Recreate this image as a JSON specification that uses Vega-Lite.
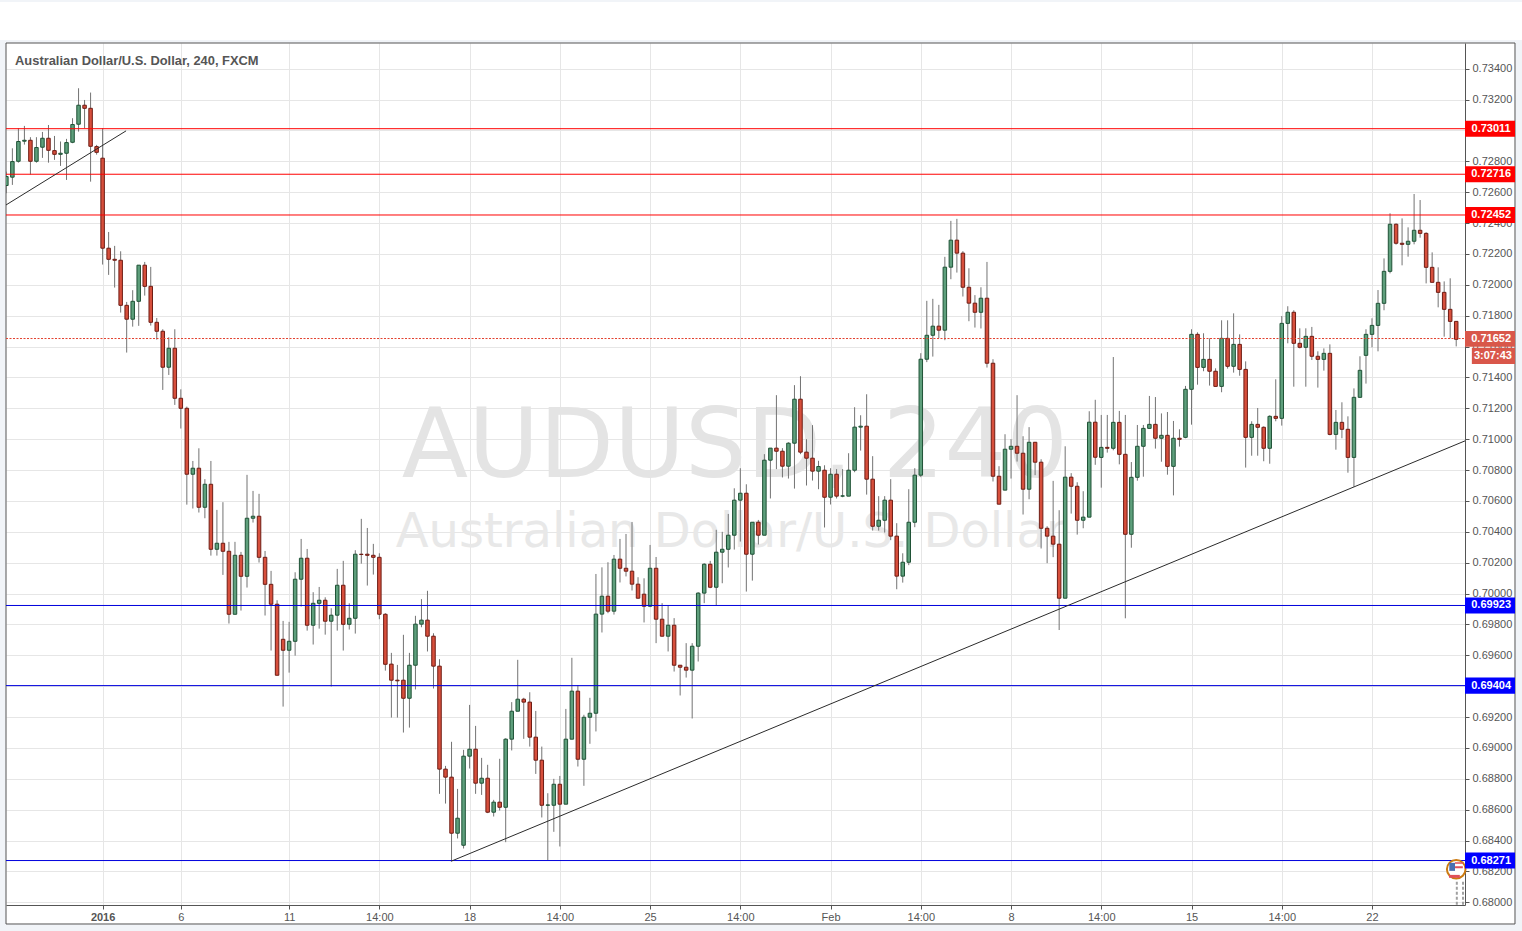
{
"$schema":"https://vega.github.io/schema/vega-lite/v6.json",
"width":1459,"height":862,
"autosize":{"type":"none"},
"padding":{"left":6,"top":43,"right":57,"bottom":26},
"background":"#ffffff",
"config":{"view":{"stroke":null},"font":"Liberation Sans"},
"datasets":{
"chrome":[
{"i":-2.05,"i2":250.96,"p":0.73845,"p2":0.73832},
{"i":-2.05,"i2":250.96,"p":0.73586,"p2":0.73566},
{"i":-2.05,"i2":-1.06,"p":0.73586,"p2":0.67815},
{"i":249.77,"i2":250.96,"p":0.73586,"p2":0.67815},
{"i":-2.05,"i2":250.96,"p":0.6786,"p2":0.67815}],
"frame":[{"i":-1.06,"i2":249.77,"p":0.73566,"p2":0.6786}],
"watermark":[{"i":120.1,"p":0.70756,"t":"AUDUSD, 240"}],
"watermark2":[{"i":119.4,"p":0.70302,"t":"Australian Dollar/U.S. Dollar"}],
"title":[{"i":0.44,"p":0.73424,"t":"Australian Dollar/U.S. Dollar, 240, FXCM"}],
"levelsRed":[{"i":-1.06,"i2":241.46,"p":0.73011},{"i":-1.06,"i2":241.46,"p":0.72716},{"i":-1.06,"i2":241.46,"p":0.72452}],
"levelsBlue":[{"i":-1.06,"i2":241.46,"p":0.69923},{"i":-1.06,"i2":241.46,"p":0.69404},{"i":-1.06,"i2":241.46,"p":0.68271}],
"current":[{"i":-1.06,"i2":241.46,"p":0.71652}],
"trend":[
{"id":"a","i":-1.06,"p":0.72517},{"id":"a","i":18.9,"p":0.72997},
{"id":"b","i":72.9,"p":0.68266},{"id":"b","i":241.46,"p":0.70989}],
"boxes":[
{"i":241.46,"i2":249.77,"p":0.73063,"p2":0.72959,"k":"red"},
{"i":241.46,"i2":249.77,"p":0.72768,"p2":0.72664,"k":"red"},
{"i":241.46,"i2":249.77,"p":0.72504,"p2":0.724,"k":"red"},
{"i":241.46,"i2":249.77,"p":0.71701,"p2":0.71598,"k":"cur"},
{"i":242.6,"i2":249.77,"p":0.71593,"p2":0.71487,"k":"cur"},
{"i":241.46,"i2":249.77,"p":0.69975,"p2":0.69871,"k":"blue"},
{"i":241.46,"i2":249.77,"p":0.69456,"p2":0.69352,"k":"blue"},
{"i":241.46,"i2":249.77,"p":0.68323,"p2":0.68219,"k":"blue"}],
"boxText":[
{"i":245.8,"p":0.73011,"t":"0.73011"},
{"i":245.8,"p":0.72716,"t":"0.72716"},
{"i":245.8,"p":0.72452,"t":"0.72452"},
{"i":245.8,"p":0.71652,"t":"0.71652"},
{"i":246.1,"p":0.7154,"t":"3:07:43"},
{"i":245.8,"p":0.69923,"t":"0.69923"},
{"i":245.8,"p":0.69404,"t":"0.69404"},
{"i":245.8,"p":0.68271,"t":"0.68271"}],
"iconDots":[{"i":240.1,"p":0.68133,"p2":0.67983},{"i":241.13,"p":0.68133,"p2":0.67983}],
"icon":[{"i":240,"p":0.68215}],
"iconBlue":[{"i":238.85,"i2":239.8,"p":0.68256,"p2":0.68204}],
"iconRed":[{"i":238.8,"i2":240.6,"p":0.68178,"p2":0.68159},{"i":239.8,"i2":241.1,"p":0.6826,"p2":0.6825},{"i":239.8,"i2":241.1,"p":0.68234,"p2":0.68221}],
"candles":[
{"i":-1,"o":0.72643,"h":0.72733,"l":0.72593,"c":0.72701,"d":"up"},
{"i":0,"o":0.72697,"h":0.72884,"l":0.72647,"c":0.72798,"d":"up"},
{"i":1,"o":0.728,"h":0.73014,"l":0.72791,"c":0.72928,"d":"up"},
{"i":2,"o":0.7293,"h":0.73029,"l":0.72908,"c":0.72936,"d":"up"},
{"i":3,"o":0.72936,"h":0.72956,"l":0.72714,"c":0.728,"d":"down"},
{"i":4,"o":0.728,"h":0.72956,"l":0.72791,"c":0.72889,"d":"up"},
{"i":5,"o":0.72891,"h":0.7299,"l":0.72822,"c":0.72949,"d":"up"},
{"i":6,"o":0.72949,"h":0.73035,"l":0.72791,"c":0.72871,"d":"down"},
{"i":7,"o":0.72869,"h":0.72964,"l":0.72809,"c":0.72845,"d":"down"},
{"i":8,"o":0.72845,"h":0.72928,"l":0.7277,"c":0.72852,"d":"up"},
{"i":9,"o":0.72852,"h":0.72945,"l":0.72679,"c":0.72921,"d":"up"},
{"i":10,"o":0.72923,"h":0.73079,"l":0.72917,"c":0.73038,"d":"up"},
{"i":11,"o":0.7304,"h":0.73273,"l":0.72992,"c":0.73163,"d":"up"},
{"i":12,"o":0.73163,"h":0.73197,"l":0.73014,"c":0.73143,"d":"down"},
{"i":13,"o":0.73143,"h":0.73245,"l":0.72668,"c":0.72897,"d":"down"},
{"i":14,"o":0.72895,"h":0.72906,"l":0.72843,"c":0.72858,"d":"down"},
{"i":15,"o":0.7282,"h":0.73014,"l":0.72131,"c":0.72237,"d":"down"},
{"i":16,"o":0.72237,"h":0.72342,"l":0.72064,"c":0.72165,"d":"down"},
{"i":17,"o":0.72165,"h":0.72252,"l":0.71982,"c":0.72159,"d":"down"},
{"i":18,"o":0.72159,"h":0.72217,"l":0.7182,"c":0.71867,"d":"down"},
{"i":19,"o":0.71867,"h":0.71889,"l":0.71561,"c":0.71777,"d":"down"},
{"i":20,"o":0.71777,"h":0.71965,"l":0.71729,"c":0.71893,"d":"up"},
{"i":21,"o":0.71893,"h":0.72127,"l":0.71734,"c":0.72127,"d":"up"},
{"i":22,"o":0.72127,"h":0.72148,"l":0.7193,"c":0.7199,"d":"down"},
{"i":23,"o":0.7199,"h":0.72116,"l":0.71736,"c":0.71757,"d":"down"},
{"i":24,"o":0.71757,"h":0.71785,"l":0.71645,"c":0.71699,"d":"down"},
{"i":25,"o":0.71699,"h":0.71712,"l":0.71319,"c":0.71466,"d":"down"},
{"i":26,"o":0.71466,"h":0.7166,"l":0.71416,"c":0.71589,"d":"up"},
{"i":27,"o":0.71589,"h":0.71712,"l":0.71222,"c":0.71265,"d":"down"},
{"i":28,"o":0.71265,"h":0.71323,"l":0.71069,"c":0.712,"d":"down"},
{"i":29,"o":0.712,"h":0.71211,"l":0.70576,"c":0.70773,"d":"down"},
{"i":30,"o":0.70773,"h":0.70859,"l":0.70551,"c":0.70812,"d":"up"},
{"i":31,"o":0.70812,"h":0.70941,"l":0.70525,"c":0.70559,"d":"down"},
{"i":32,"o":0.70559,"h":0.70741,"l":0.70488,"c":0.70708,"d":"up"},
{"i":33,"o":0.70708,"h":0.70859,"l":0.70246,"c":0.70287,"d":"down"},
{"i":34,"o":0.70287,"h":0.70542,"l":0.70246,"c":0.70326,"d":"up"},
{"i":35,"o":0.70326,"h":0.70592,"l":0.70121,"c":0.70274,"d":"down"},
{"i":36,"o":0.70274,"h":0.70335,"l":0.69806,"c":0.69866,"d":"down"},
{"i":37,"o":0.69866,"h":0.70335,"l":0.69866,"c":0.70248,"d":"up"},
{"i":38,"o":0.70248,"h":0.7027,"l":0.6989,"c":0.70112,"d":"down"},
{"i":39,"o":0.70112,"h":0.70769,"l":0.70039,"c":0.70488,"d":"up"},
{"i":40,"o":0.70488,"h":0.70665,"l":0.7046,"c":0.70501,"d":"up"},
{"i":41,"o":0.70501,"h":0.70646,"l":0.70201,"c":0.70235,"d":"down"},
{"i":42,"o":0.70235,"h":0.70276,"l":0.69858,"c":0.7006,"d":"down"},
{"i":43,"o":0.7006,"h":0.70147,"l":0.69631,"c":0.69931,"d":"down"},
{"i":44,"o":0.69931,"h":0.69957,"l":0.69471,"c":0.69471,"d":"down"},
{"i":45,"o":0.69704,"h":0.69823,"l":0.69268,"c":0.69633,"d":"down"},
{"i":46,"o":0.69633,"h":0.69817,"l":0.69488,"c":0.69691,"d":"up"},
{"i":47,"o":0.69691,"h":0.70138,"l":0.69598,"c":0.70093,"d":"up"},
{"i":48,"o":0.70093,"h":0.70354,"l":0.69916,"c":0.70229,"d":"up"},
{"i":49,"o":0.70229,"h":0.70289,"l":0.6976,"c":0.69795,"d":"down"},
{"i":50,"o":0.69795,"h":0.70009,"l":0.6967,"c":0.69937,"d":"up"},
{"i":51,"o":0.69937,"h":0.70043,"l":0.69773,"c":0.69957,"d":"up"},
{"i":52,"o":0.69957,"h":0.69976,"l":0.69734,"c":0.69821,"d":"down"},
{"i":53,"o":0.69821,"h":0.69905,"l":0.69398,"c":0.6986,"d":"up"},
{"i":54,"o":0.6986,"h":0.7016,"l":0.6976,"c":0.70054,"d":"up"},
{"i":55,"o":0.70054,"h":0.70212,"l":0.69631,"c":0.69801,"d":"down"},
{"i":56,"o":0.69801,"h":0.69937,"l":0.69767,"c":0.6984,"d":"up"},
{"i":57,"o":0.6984,"h":0.70281,"l":0.69741,"c":0.70255,"d":"up"},
{"i":58,"o":0.70255,"h":0.70484,"l":0.70194,"c":0.70253,"d":"down"},
{"i":59,"o":0.70255,"h":0.70425,"l":0.70052,"c":0.70248,"d":"down"},
{"i":60,"o":0.70248,"h":0.70322,"l":0.70123,"c":0.70235,"d":"down"},
{"i":61,"o":0.70235,"h":0.70261,"l":0.69834,"c":0.69866,"d":"down"},
{"i":62,"o":0.69866,"h":0.69873,"l":0.69501,"c":0.69542,"d":"down"},
{"i":63,"o":0.69543,"h":0.69616,"l":0.69197,"c":0.69439,"d":"down"},
{"i":64,"o":0.69439,"h":0.69538,"l":0.69197,"c":0.69435,"d":"down"},
{"i":65,"o":0.69439,"h":0.69733,"l":0.691,"c":0.69322,"d":"down"},
{"i":66,"o":0.69322,"h":0.69616,"l":0.69132,"c":0.69536,"d":"up"},
{"i":67,"o":0.69536,"h":0.69856,"l":0.69379,"c":0.69802,"d":"up"},
{"i":68,"o":0.69802,"h":0.69964,"l":0.69782,"c":0.69828,"d":"up"},
{"i":69,"o":0.69828,"h":0.70018,"l":0.69625,"c":0.69724,"d":"down"},
{"i":70,"o":0.69724,"h":0.69743,"l":0.69385,"c":0.6953,"d":"down"},
{"i":71,"o":0.6953,"h":0.69575,"l":0.68703,"c":0.68863,"d":"down"},
{"i":72,"o":0.68863,"h":0.68884,"l":0.6864,"c":0.68811,"d":"down"},
{"i":73,"o":0.68811,"h":0.6904,"l":0.68271,"c":0.68448,"d":"down"},
{"i":74,"o":0.68448,"h":0.68735,"l":0.68414,"c":0.68545,"d":"up"},
{"i":75,"o":0.6837,"h":0.68988,"l":0.68349,"c":0.68947,"d":"up"},
{"i":76,"o":0.68947,"h":0.69279,"l":0.68867,"c":0.68992,"d":"up"},
{"i":77,"o":0.68992,"h":0.69143,"l":0.68703,"c":0.68772,"d":"down"},
{"i":78,"o":0.68772,"h":0.68936,"l":0.68696,"c":0.68804,"d":"up"},
{"i":79,"o":0.68804,"h":0.68891,"l":0.68578,"c":0.68584,"d":"down"},
{"i":80,"o":0.68584,"h":0.68664,"l":0.68556,"c":0.68649,"d":"up"},
{"i":81,"o":0.68649,"h":0.6893,"l":0.68595,"c":0.68616,"d":"down"},
{"i":82,"o":0.68616,"h":0.69063,"l":0.6839,"c":0.69057,"d":"up"},
{"i":83,"o":0.69057,"h":0.69297,"l":0.68984,"c":0.69238,"d":"up"},
{"i":84,"o":0.69238,"h":0.69571,"l":0.69238,"c":0.69316,"d":"up"},
{"i":85,"o":0.69316,"h":0.69325,"l":0.69059,"c":0.69297,"d":"down"},
{"i":86,"o":0.69297,"h":0.69361,"l":0.69009,"c":0.6907,"d":"down"},
{"i":87,"o":0.6907,"h":0.6924,"l":0.68832,"c":0.68921,"d":"down"},
{"i":88,"o":0.68921,"h":0.69009,"l":0.6855,"c":0.68629,"d":"down"},
{"i":89,"o":0.68629,"h":0.68707,"l":0.68273,"c":0.68631,"d":"up"},
{"i":90,"o":0.68629,"h":0.688,"l":0.68457,"c":0.68765,"d":"up"},
{"i":91,"o":0.68765,"h":0.68819,"l":0.68362,"c":0.68636,"d":"down"},
{"i":92,"o":0.68636,"h":0.69253,"l":0.68636,"c":0.69057,"d":"up"},
{"i":93,"o":0.69057,"h":0.69584,"l":0.69057,"c":0.69368,"d":"up"},
{"i":94,"o":0.69368,"h":0.69407,"l":0.6888,"c":0.68927,"d":"down"},
{"i":95,"o":0.68927,"h":0.69215,"l":0.68755,"c":0.69199,"d":"up"},
{"i":96,"o":0.69199,"h":0.69325,"l":0.69027,"c":0.69225,"d":"up"},
{"i":97,"o":0.69225,"h":0.70127,"l":0.69107,"c":0.69867,"d":"up"},
{"i":98,"o":0.69867,"h":0.7017,"l":0.69748,"c":0.69983,"d":"up"},
{"i":99,"o":0.69983,"h":0.70203,"l":0.69873,"c":0.69886,"d":"down"},
{"i":100,"o":0.69886,"h":0.7025,"l":0.69864,"c":0.70223,"d":"up"},
{"i":101,"o":0.70223,"h":0.70354,"l":0.70072,"c":0.70164,"d":"down"},
{"i":102,"o":0.70164,"h":0.70386,"l":0.70111,"c":0.70145,"d":"down"},
{"i":103,"o":0.70145,"h":0.70464,"l":0.7002,"c":0.70061,"d":"down"},
{"i":104,"o":0.70061,"h":0.70106,"l":0.69968,"c":0.6997,"d":"down"},
{"i":105,"o":0.69996,"h":0.70099,"l":0.69813,"c":0.69918,"d":"down"},
{"i":106,"o":0.69918,"h":0.70315,"l":0.69912,"c":0.70164,"d":"up"},
{"i":107,"o":0.70164,"h":0.70237,"l":0.69679,"c":0.69834,"d":"down"},
{"i":108,"o":0.69834,"h":0.69938,"l":0.69722,"c":0.69724,"d":"down"},
{"i":109,"o":0.69724,"h":0.69925,"l":0.69625,"c":0.69795,"d":"up"},
{"i":110,"o":0.69795,"h":0.69841,"l":0.69495,"c":0.69536,"d":"down"},
{"i":111,"o":0.69536,"h":0.69536,"l":0.6934,"c":0.69523,"d":"down"},
{"i":112,"o":0.69523,"h":0.69679,"l":0.69456,"c":0.69504,"d":"down"},
{"i":113,"o":0.69504,"h":0.69679,"l":0.69191,"c":0.69659,"d":"up"},
{"i":114,"o":0.69659,"h":0.70009,"l":0.6956,"c":0.70003,"d":"up"},
{"i":115,"o":0.70003,"h":0.70197,"l":0.69938,"c":0.7019,"d":"up"},
{"i":116,"o":0.7019,"h":0.70212,"l":0.70035,"c":0.70041,"d":"down"},
{"i":117,"o":0.70041,"h":0.70413,"l":0.69925,"c":0.70268,"d":"up"},
{"i":118,"o":0.70268,"h":0.704,"l":0.70067,"c":0.70287,"d":"up"},
{"i":119,"o":0.70287,"h":0.70516,"l":0.70169,"c":0.70378,"d":"up"},
{"i":120,"o":0.70378,"h":0.70682,"l":0.70285,"c":0.70605,"d":"up"},
{"i":121,"o":0.70605,"h":0.70812,"l":0.70337,"c":0.7065,"d":"up"},
{"i":122,"o":0.7065,"h":0.70708,"l":0.70013,"c":0.70255,"d":"down"},
{"i":123,"o":0.70255,"h":0.70462,"l":0.70084,"c":0.70462,"d":"up"},
{"i":124,"o":0.70462,"h":0.70477,"l":0.70318,"c":0.70378,"d":"down"},
{"i":125,"o":0.70378,"h":0.70903,"l":0.70378,"c":0.70864,"d":"up"},
{"i":126,"o":0.70864,"h":0.70942,"l":0.70616,"c":0.70942,"d":"up"},
{"i":127,"o":0.70942,"h":0.71285,"l":0.70806,"c":0.70922,"d":"down"},
{"i":128,"o":0.70922,"h":0.70942,"l":0.70752,"c":0.70825,"d":"down"},
{"i":129,"o":0.70825,"h":0.7098,"l":0.70745,"c":0.70974,"d":"up"},
{"i":130,"o":0.70974,"h":0.7135,"l":0.7068,"c":0.71259,"d":"up"},
{"i":131,"o":0.71259,"h":0.71408,"l":0.70903,"c":0.70916,"d":"down"},
{"i":132,"o":0.70916,"h":0.71,"l":0.707,"c":0.70877,"d":"down"},
{"i":133,"o":0.70877,"h":0.71091,"l":0.70732,"c":0.70793,"d":"down"},
{"i":134,"o":0.70793,"h":0.7086,"l":0.70676,"c":0.70823,"d":"up"},
{"i":135,"o":0.70799,"h":0.70831,"l":0.70428,"c":0.70624,"d":"down"},
{"i":136,"o":0.70624,"h":0.70812,"l":0.70577,"c":0.70773,"d":"up"},
{"i":137,"o":0.70773,"h":0.70806,"l":0.70616,"c":0.70631,"d":"down"},
{"i":138,"o":0.70631,"h":0.70806,"l":0.70624,"c":0.70633,"d":"up"},
{"i":139,"o":0.70631,"h":0.70909,"l":0.70631,"c":0.70799,"d":"up"},
{"i":140,"o":0.70799,"h":0.71207,"l":0.70786,"c":0.71078,"d":"up"},
{"i":141,"o":0.71078,"h":0.71155,"l":0.70926,"c":0.71084,"d":"up"},
{"i":142,"o":0.71084,"h":0.71291,"l":0.70641,"c":0.70741,"d":"down"},
{"i":143,"o":0.70741,"h":0.7089,"l":0.70408,"c":0.70436,"d":"down"},
{"i":144,"o":0.70436,"h":0.70631,"l":0.70408,"c":0.70475,"d":"up"},
{"i":145,"o":0.70475,"h":0.70631,"l":0.70395,"c":0.70605,"d":"up"},
{"i":146,"o":0.70605,"h":0.70741,"l":0.70346,"c":0.70372,"d":"down"},
{"i":147,"o":0.70372,"h":0.70456,"l":0.70028,"c":0.70113,"d":"down"},
{"i":148,"o":0.70113,"h":0.70261,"l":0.70071,"c":0.70203,"d":"up"},
{"i":149,"o":0.70203,"h":0.70676,"l":0.70184,"c":0.70462,"d":"up"},
{"i":150,"o":0.70462,"h":0.70812,"l":0.7043,"c":0.70767,"d":"up"},
{"i":151,"o":0.70767,"h":0.71557,"l":0.70754,"c":0.71518,"d":"up"},
{"i":152,"o":0.71518,"h":0.71896,"l":0.71499,"c":0.71673,"d":"up"},
{"i":153,"o":0.71673,"h":0.71909,"l":0.71535,"c":0.71732,"d":"up"},
{"i":154,"o":0.71732,"h":0.7187,"l":0.71654,"c":0.71706,"d":"down"},
{"i":155,"o":0.71706,"h":0.72181,"l":0.71641,"c":0.72114,"d":"up"},
{"i":156,"o":0.72114,"h":0.72414,"l":0.72036,"c":0.72289,"d":"up"},
{"i":157,"o":0.72289,"h":0.72427,"l":0.72079,"c":0.72205,"d":"down"},
{"i":158,"o":0.72205,"h":0.72218,"l":0.71924,"c":0.71984,"d":"down"},
{"i":159,"o":0.71984,"h":0.72107,"l":0.71764,"c":0.71881,"d":"down"},
{"i":160,"o":0.71881,"h":0.71933,"l":0.71723,"c":0.71822,"d":"down"},
{"i":161,"o":0.71822,"h":0.71984,"l":0.71717,"c":0.71913,"d":"up"},
{"i":162,"o":0.71913,"h":0.72148,"l":0.71464,"c":0.71492,"d":"down"},
{"i":163,"o":0.71492,"h":0.71518,"l":0.70726,"c":0.7076,"d":"down"},
{"i":164,"o":0.7076,"h":0.70825,"l":0.70579,"c":0.70579,"d":"down"},
{"i":165,"o":0.7067,"h":0.71032,"l":0.7067,"c":0.70935,"d":"up"},
{"i":166,"o":0.70935,"h":0.71,"l":0.70745,"c":0.70954,"d":"up"},
{"i":167,"o":0.70954,"h":0.71285,"l":0.70855,"c":0.70909,"d":"down"},
{"i":168,"o":0.70909,"h":0.71019,"l":0.70512,"c":0.70676,"d":"down"},
{"i":169,"o":0.70676,"h":0.71078,"l":0.70611,"c":0.7098,"d":"up"},
{"i":170,"o":0.7098,"h":0.7098,"l":0.70767,"c":0.70851,"d":"down"},
{"i":171,"o":0.70851,"h":0.7087,"l":0.70292,"c":0.70423,"d":"down"},
{"i":172,"o":0.70423,"h":0.70436,"l":0.70197,"c":0.70372,"d":"down"},
{"i":173,"o":0.70372,"h":0.7073,"l":0.70236,"c":0.7032,"d":"down"},
{"i":174,"o":0.7032,"h":0.7054,"l":0.69764,"c":0.6997,"d":"down"},
{"i":175,"o":0.6997,"h":0.70954,"l":0.6997,"c":0.70754,"d":"up"},
{"i":176,"o":0.70754,"h":0.7078,"l":0.70518,"c":0.70695,"d":"down"},
{"i":177,"o":0.70695,"h":0.70721,"l":0.70382,"c":0.70475,"d":"down"},
{"i":178,"o":0.70475,"h":0.70663,"l":0.70423,"c":0.70495,"d":"up"},
{"i":179,"o":0.70495,"h":0.71181,"l":0.70495,"c":0.7111,"d":"up"},
{"i":180,"o":0.7111,"h":0.71255,"l":0.70834,"c":0.70883,"d":"down"},
{"i":181,"o":0.70882,"h":0.71157,"l":0.70686,"c":0.70947,"d":"up"},
{"i":182,"o":0.70947,"h":0.71157,"l":0.70913,"c":0.70941,"d":"down"},
{"i":183,"o":0.70941,"h":0.71532,"l":0.70928,"c":0.71109,"d":"up"},
{"i":184,"o":0.71109,"h":0.71183,"l":0.70837,"c":0.70902,"d":"down"},
{"i":185,"o":0.70902,"h":0.71157,"l":0.6984,"c":0.70384,"d":"down"},
{"i":186,"o":0.70384,"h":0.70852,"l":0.70297,"c":0.70753,"d":"up"},
{"i":187,"o":0.70753,"h":0.71092,"l":0.70731,"c":0.70954,"d":"up"},
{"i":188,"o":0.70954,"h":0.71092,"l":0.70757,"c":0.7107,"d":"up"},
{"i":189,"o":0.7107,"h":0.7128,"l":0.7107,"c":0.71096,"d":"up"},
{"i":190,"o":0.71096,"h":0.71273,"l":0.70939,"c":0.71006,"d":"down"},
{"i":191,"o":0.71006,"h":0.71167,"l":0.70854,"c":0.71025,"d":"up"},
{"i":192,"o":0.71025,"h":0.71176,"l":0.7077,"c":0.70824,"d":"down"},
{"i":193,"o":0.70824,"h":0.71118,"l":0.70636,"c":0.71006,"d":"up"},
{"i":194,"o":0.71006,"h":0.71064,"l":0.70952,"c":0.70999,"d":"down"},
{"i":195,"o":0.71012,"h":0.71345,"l":0.71006,"c":0.71323,"d":"up"},
{"i":196,"o":0.71323,"h":0.71712,"l":0.71094,"c":0.71679,"d":"up"},
{"i":197,"o":0.71679,"h":0.71692,"l":0.71353,"c":0.71465,"d":"down"},
{"i":198,"o":0.71465,"h":0.71686,"l":0.7144,"c":0.71517,"d":"up"},
{"i":199,"o":0.71517,"h":0.71653,"l":0.71347,"c":0.7144,"d":"down"},
{"i":200,"o":0.7144,"h":0.71459,"l":0.7134,"c":0.71342,"d":"down"},
{"i":201,"o":0.71342,"h":0.7177,"l":0.71304,"c":0.71653,"d":"up"},
{"i":202,"o":0.71653,"h":0.7177,"l":0.71457,"c":0.71472,"d":"down"},
{"i":203,"o":0.71472,"h":0.71815,"l":0.71431,"c":0.71614,"d":"up"},
{"i":204,"o":0.71614,"h":0.71679,"l":0.71411,"c":0.71452,"d":"down"},
{"i":205,"o":0.71452,"h":0.71504,"l":0.70816,"c":0.71012,"d":"down"},
{"i":206,"o":0.71012,"h":0.71116,"l":0.70893,"c":0.71096,"d":"up"},
{"i":207,"o":0.71096,"h":0.71202,"l":0.70893,"c":0.71077,"d":"down"},
{"i":208,"o":0.71077,"h":0.71083,"l":0.70857,"c":0.70941,"d":"down"},
{"i":209,"o":0.70941,"h":0.71155,"l":0.70841,"c":0.71148,"d":"up"},
{"i":210,"o":0.71148,"h":0.71388,"l":0.71116,"c":0.71135,"d":"down"},
{"i":211,"o":0.71135,"h":0.71798,"l":0.71088,"c":0.7175,"d":"up"},
{"i":212,"o":0.7175,"h":0.71861,"l":0.71621,"c":0.71822,"d":"up"},
{"i":213,"o":0.71822,"h":0.71835,"l":0.7134,"c":0.71621,"d":"down"},
{"i":214,"o":0.71621,"h":0.71718,"l":0.71588,"c":0.71595,"d":"down"},
{"i":215,"o":0.71595,"h":0.71718,"l":0.7134,"c":0.71666,"d":"up"},
{"i":216,"o":0.71666,"h":0.71727,"l":0.71513,"c":0.71537,"d":"down"},
{"i":217,"o":0.71537,"h":0.71569,"l":0.71334,"c":0.71517,"d":"down"},
{"i":218,"o":0.71517,"h":0.71588,"l":0.71444,"c":0.71556,"d":"up"},
{"i":219,"o":0.71556,"h":0.71614,"l":0.71025,"c":0.71031,"d":"down"},
{"i":220,"o":0.71031,"h":0.71189,"l":0.70932,"c":0.71109,"d":"up"},
{"i":221,"o":0.71109,"h":0.71239,"l":0.71006,"c":0.71064,"d":"down"},
{"i":222,"o":0.71064,"h":0.71148,"l":0.70783,"c":0.70882,"d":"down"},
{"i":223,"o":0.70882,"h":0.71329,"l":0.70692,"c":0.71271,"d":"up"},
{"i":224,"o":0.71271,"h":0.71537,"l":0.71271,"c":0.71446,"d":"up"},
{"i":225,"o":0.71543,"h":0.71712,"l":0.7136,"c":0.71679,"d":"up"},
{"i":226,"o":0.71679,"h":0.71783,"l":0.71595,"c":0.71737,"d":"up"},
{"i":227,"o":0.71737,"h":0.71966,"l":0.71569,"c":0.7188,"d":"up"},
{"i":228,"o":0.7188,"h":0.72171,"l":0.71835,"c":0.72087,"d":"up"},
{"i":229,"o":0.72087,"h":0.72463,"l":0.72074,"c":0.72392,"d":"up"},
{"i":230,"o":0.72392,"h":0.72398,"l":0.7226,"c":0.72269,"d":"down"},
{"i":231,"o":0.72269,"h":0.7243,"l":0.72126,"c":0.72262,"d":"down"},
{"i":232,"o":0.72262,"h":0.72372,"l":0.72182,"c":0.72282,"d":"up"},
{"i":233,"o":0.72282,"h":0.72588,"l":0.72262,"c":0.72353,"d":"up"},
{"i":234,"o":0.72353,"h":0.72549,"l":0.72305,"c":0.72333,"d":"down"},
{"i":235,"o":0.72333,"h":0.7234,"l":0.72009,"c":0.72113,"d":"down"},
{"i":236,"o":0.72113,"h":0.7221,"l":0.72016,"c":0.72016,"d":"down"},
{"i":237,"o":0.72016,"h":0.72113,"l":0.71854,"c":0.71951,"d":"down"},
{"i":238,"o":0.71951,"h":0.72022,"l":0.71664,"c":0.71841,"d":"down"},
{"i":239,"o":0.71841,"h":0.72042,"l":0.71653,"c":0.71763,"d":"down"},
{"i":240,"o":0.71763,"h":0.71763,"l":0.71601,"c":0.71647,"d":"down"}
]},
"encoding":{
"x":{"field":"i","type":"quantitative","title":null,
"scale":{"domain":[-1.06,241.46],"nice":false,"zero":false,"padding":0},
"axis":{"orient":"bottom","values":[15,28,46,61,76,91,106,121,136,151,166,181,196,211,226],
"labelExpr":"({15:'2016',28:'6',46:'11',61:'14:00',76:'18',91:'14:00',106:'25',121:'14:00',136:'Feb',151:'14:00',166:'8',181:'14:00',196:'15',211:'14:00',226:'22'})[datum.value]",
"grid":true,"gridColor":"#e6e6e6","gridWidth":1,"domainColor":"#555555","tickColor":"#555555","tickSize":4,"labelColor":"#555555","labelFont":"Liberation Sans","labelFontSize":11,"labelPadding":2,"labelFontWeight":{"condition":{"test":"datum.value==15","value":"bold"},"value":"normal"},"labelOverlap":false,"labelFlush":false,"zindex":0}},
"y":{"field":"p","type":"quantitative","title":null,
"scale":{"domain":[0.67983,0.73566],"nice":false,"zero":false},
"axis":{"orient":"right","values":[0.68,0.682,0.684,0.686,0.688,0.69,0.692,0.694,0.696,0.698,0.7,0.702,0.704,0.706,0.708,0.71,0.712,0.714,0.716,0.718,0.72,0.722,0.724,0.726,0.728,0.73,0.732,0.734],
"format":".5f","grid":true,"gridColor":"#e6e6e6","gridWidth":1,"domainColor":"#555555","tickColor":"#555555","tickSize":4,"labelColor":"#555555","labelFont":"Liberation Sans","labelFontSize":11,"labelPadding":3,"labelOverlap":false,"labelFlush":false,"zindex":0}}
},
"layer":[
{"data":{"name":"chrome"},"mark":{"type":"rect","fill":"#f1f4f8","clip":false},"encoding":{"x2":{"field":"i2"},"y2":{"field":"p2"}}},
{"data":{"name":"frame"},"mark":{"type":"rect","fill":null,"stroke":"#555555","strokeWidth":1,"clip":false},"encoding":{"x2":{"field":"i2"},"y2":{"field":"p2"}}},
{"data":{"name":"watermark"},"mark":{"type":"text","font":"DejaVu Sans","fontSize":97,"color":"#e4e4e4","align":"center","baseline":"alphabetic"},"encoding":{"text":{"field":"t"}}},
{"data":{"name":"watermark2"},"mark":{"type":"text","font":"DejaVu Sans","fontSize":48,"color":"#e8e8e8","align":"center","baseline":"alphabetic"},"encoding":{"text":{"field":"t"}}},
{"data":{"name":"candles"},"mark":{"type":"rule","color":"#737373","strokeWidth":1,"clip":true},"encoding":{"y":{"field":"l","type":"quantitative","title":null,"scale":{"domain":[0.67983,0.73566],"nice":false,"zero":false},
"axis":{"orient":"right","values":[0.68,0.682,0.684,0.686,0.688,0.69,0.692,0.694,0.696,0.698,0.7,0.702,0.704,0.706,0.708,0.71,0.712,0.714,0.716,0.718,0.72,0.722,0.724,0.726,0.728,0.73,0.732,0.734],
"format":".5f","grid":true,"gridColor":"#e6e6e6","gridWidth":1,"domainColor":"#555555","tickColor":"#555555","tickSize":4,"labelColor":"#555555","labelFont":"Liberation Sans","labelFontSize":11,"labelPadding":3,"labelOverlap":false,"labelFlush":false,"zindex":0}},"y2":{"field":"h"}}},
{"data":{"name":"candles"},"mark":{"type":"bar","size":3.5,"orient":"vertical","strokeWidth":1,"clip":true},"encoding":{"y":{"field":"o","type":"quantitative","title":null,"scale":{"domain":[0.67983,0.73566],"nice":false,"zero":false},
"axis":{"orient":"right","values":[0.68,0.682,0.684,0.686,0.688,0.69,0.692,0.694,0.696,0.698,0.7,0.702,0.704,0.706,0.708,0.71,0.712,0.714,0.716,0.718,0.72,0.722,0.724,0.726,0.728,0.73,0.732,0.734],
"format":".5f","grid":true,"gridColor":"#e6e6e6","gridWidth":1,"domainColor":"#555555","tickColor":"#555555","tickSize":4,"labelColor":"#555555","labelFont":"Liberation Sans","labelFontSize":11,"labelPadding":3,"labelOverlap":false,"labelFlush":false,"zindex":0}},"y2":{"field":"c"},
"fill":{"field":"d","type":"nominal","legend":null,"scale":{"domain":["up","down"],"range":["#5e9f7c","#d74f3c"]}},
"stroke":{"field":"d","type":"nominal","legend":null,"scale":{"domain":["up","down"],"range":["#1f5236","#6e1c14"]}}}},
{"data":{"name":"levelsRed"},"mark":{"type":"rule","color":"#ff0000","strokeWidth":1},"encoding":{"x2":{"field":"i2"}}},
{"data":{"name":"levelsBlue"},"mark":{"type":"rule","color":"#0000dd","strokeWidth":1},"encoding":{"x2":{"field":"i2"}}},
{"data":{"name":"current"},"mark":{"type":"rule","color":"#e2402e","strokeWidth":1,"strokeDash":[2,1.5]},"encoding":{"x2":{"field":"i2"}}},
{"data":{"name":"trend"},"mark":{"type":"line","color":"#2b2b2b","strokeWidth":1,"clip":false},"encoding":{"detail":{"field":"id"}}},
{"data":{"name":"title"},"mark":{"type":"text","font":"Liberation Sans","fontWeight":"bold","fontSize":12.9,"color":"#555555","align":"left","baseline":"alphabetic"},"encoding":{"text":{"field":"t"}}},
{"data":{"name":"iconDots"},"mark":{"type":"rule","color":"#a0a0a0","strokeWidth":2,"strokeDash":[3,2],"clip":false},"encoding":{"y2":{"field":"p2"}}},
{"data":{"name":"icon"},"mark":{"type":"point","shape":"circle","size":346,"filled":false,"fill":"#ffffff","fillOpacity":1,"stroke":"#cc7a10","strokeWidth":2,"opacity":1,"clip":false}},
{"data":{"name":"iconBlue"},"mark":{"type":"rect","fill":"#4a6fb0","clip":false},"encoding":{"x2":{"field":"i2"},"y2":{"field":"p2"}}},
{"data":{"name":"iconRed"},"mark":{"type":"rect","fill":"#e0505a","clip":false},"encoding":{"x2":{"field":"i2"},"y2":{"field":"p2"}}},
{"data":{"name":"boxes"},"mark":{"type":"rect","clip":false},"encoding":{"x2":{"field":"i2"},"y2":{"field":"p2"},"fill":{"field":"k","type":"nominal","legend":null,"scale":{"domain":["red","cur","blue"],"range":["#ff0000","#d9574a","#0000ff"]}}}},
{"data":{"name":"boxText"},"mark":{"type":"text","font":"Liberation Sans","fontWeight":"bold","fontSize":11,"color":"#ffffff","align":"center","baseline":"middle","clip":false},"encoding":{"text":{"field":"t"}}}
],
"resolve":{"scale":{"fill":"independent","stroke":"independent"}}
}
